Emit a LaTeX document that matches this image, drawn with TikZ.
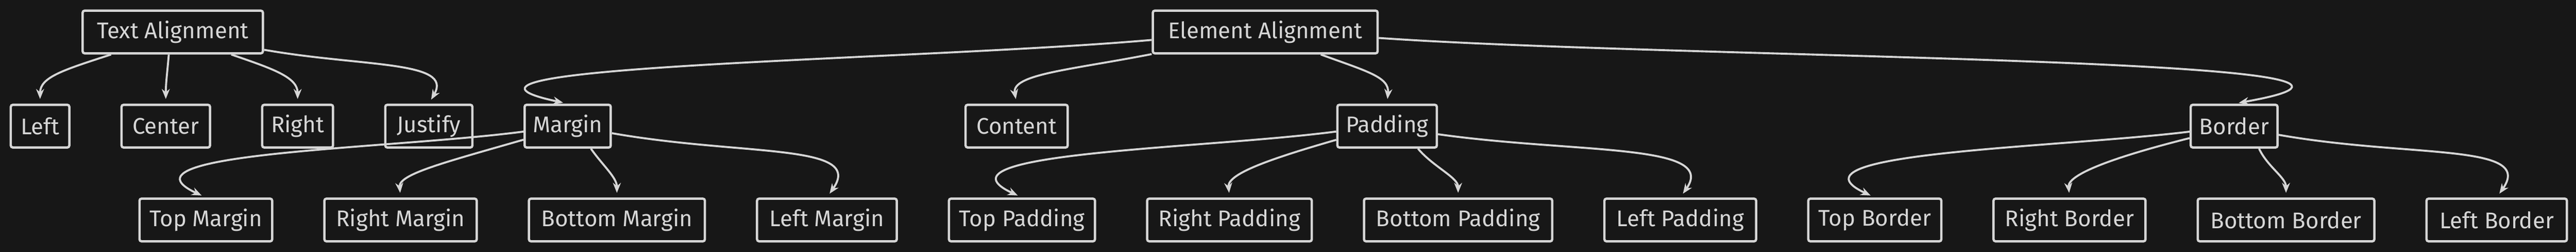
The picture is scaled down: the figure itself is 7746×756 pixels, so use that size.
\documentclass[tikz,border=0pt]{standalone}
\usepackage{fontspec}
\setmainfont{Fira Sans}
\usetikzlibrary{positioning, arrows.meta}
\definecolor{bg}{HTML}{171717}
\definecolor{ink}{HTML}{D6D6D6}

\begin{document}
\begin{tikzpicture}[x=0.25pt, y=0.25pt, node distance=37.5pt,
	box/.style={draw=ink, line width=1.75pt, rounded corners=1.5pt, fill=bg, text=ink,
		font=\fontsize{17}{20}\selectfont, minimum height=32pt, inner sep=2pt},
	link/.style={draw=ink, line width=1.5pt, -{Stealth[length=7.5pt, width=6pt]}, shorten >=3.5pt}]
	\path[use as bounding box, fill=bg] (0,0) rectangle (7746,756);
	
	\node[box, minimum width=135.5pt] (ta) at (519.5,660) {Text Alignment};
	\node[box, minimum width=169pt] (ea) at (3804.5,660) {Element Alignment};
	
	\node[box, minimum width=44pt] (t1) at (120.5,377.5) {Left};
	\node[box, minimum width=66.5pt, right=of t1] (t2) {Center};
	\node[box, minimum width=53.25pt, right=of t2] (t3) {Right};
	\node[box, minimum width=65.5pt, right=of t3] (t4) {Justify};
	\node[box, minimum width=64.75pt, right=of t4] (m0) {Margin};
	\node[box, minimum width=76.75pt] (c0) at (3057,377.5) {Content};
	\node[box, minimum width=74.75pt] (p0) at (4171,377.5) {Padding};
	\node[box, minimum width=65.25pt] (b0) at (6718,377.5) {Border};
	
	\node[box, minimum width=99.75pt] (m1) at (619,96) {Top Margin};
	\node[box, minimum width=114.5pt, right=of m1] (m2) {Right Margin};
	\node[box, minimum width=132.25pt, right=of m2] (m3) {Bottom Margin};
	\node[box, minimum width=105pt, right=of m3] (m4) {Left Margin};
	\node[box, minimum width=109.75pt, right=of m4] (p1) {Top Padding};
	\node[box, minimum width=123.75pt, right=of p1] (p2) {Right Padding};
	\node[box, minimum width=141.5pt, right=of p2] (p3) {Bottom Padding};
	\node[box, minimum width=114pt, right=of p3] (p4) {Left Padding};
	\node[box, minimum width=100pt, right=of p4] (b1) {Top Border};
	\node[box, minimum width=114.25pt, right=of b1] (b2) {Right Border};
	\node[box, minimum width=132.75pt, right=of b2] (b3) {Bottom Border};
	\node[box, minimum width=105.5pt, right=of b3] (b4) {Left Border};
	
	\draw[link] (ta.-160) to[out=-162, in=90, out distance=37.5pt, in distance=20pt] (t1.north);
	\draw[link] (ta.-100) to[out=-95, in=90, out distance=15pt, in distance=15pt] (t2.north);
	\draw[link] (ta.-21) to[out=-19, in=90, out distance=32.5pt, in distance=20pt] (t3.north);
	\draw[link] (ta.-11) to[out=-10, in=60, out distance=75pt, in distance=37.5pt] (t4.north);
	
	\draw[link] (ea.-176) to[out=185, in=168, out distance=175pt, in distance=137.5pt] (m0.north);
	\draw[link] (ea.-169) to[out=191, in=100, out distance=62.5pt, in distance=22.5pt] (c0.north);
	\draw[link] (ea.-22) to[out=-20, in=85, out distance=37.5pt, in distance=20pt] (p0.north);
	\draw[link] (ea.-3) to[out=-4, in=10, out distance=225pt, in distance=200pt] (b0.north);
	
	\draw[link] (m0.-173) to[out=187.5, in=155, out distance=100pt, in distance=80pt] (m1.north);
	\draw[link] (m0.-163) to[out=196, in=95, out distance=62.5pt, in distance=17.5pt] (m2.north);
	\draw[link] (m0.-44) to[out=-55, in=90, out distance=15pt, in distance=15pt] (m3.north);
	\draw[link] (m0.-9) to[out=-10, in=55, out distance=100pt, in distance=50pt] (m4.north);
	
	\draw[link] (p0.-174) to[out=187.5, in=155, out distance=100pt, in distance=80pt] (p1.north);
	\draw[link] (p0.-165) to[out=196, in=95, out distance=55pt, in distance=17.5pt] (p2.north);
	\draw[link] (p0.-36) to[out=-50, in=90, out distance=17.5pt, in distance=15pt] (p3.north);
	\draw[link] (p0.-9) to[out=-8, in=55, out distance=105pt, in distance=50pt] (p4.north);
	
	\draw[link] (b0.-173) to[out=187, in=155, out distance=100pt, in distance=80pt] (b1.north);
	\draw[link] (b0.-165) to[out=194, in=95, out distance=57.5pt, in distance=17.5pt] (b2.north);
	\draw[link] (b0.-42) to[out=-65, in=90, out distance=15pt, in distance=15pt] (b3.north);
	\draw[link] (b0.-11) to[out=-10, in=55, out distance=100pt, in distance=50pt] (b4.north);
\end{tikzpicture}
\end{document}
